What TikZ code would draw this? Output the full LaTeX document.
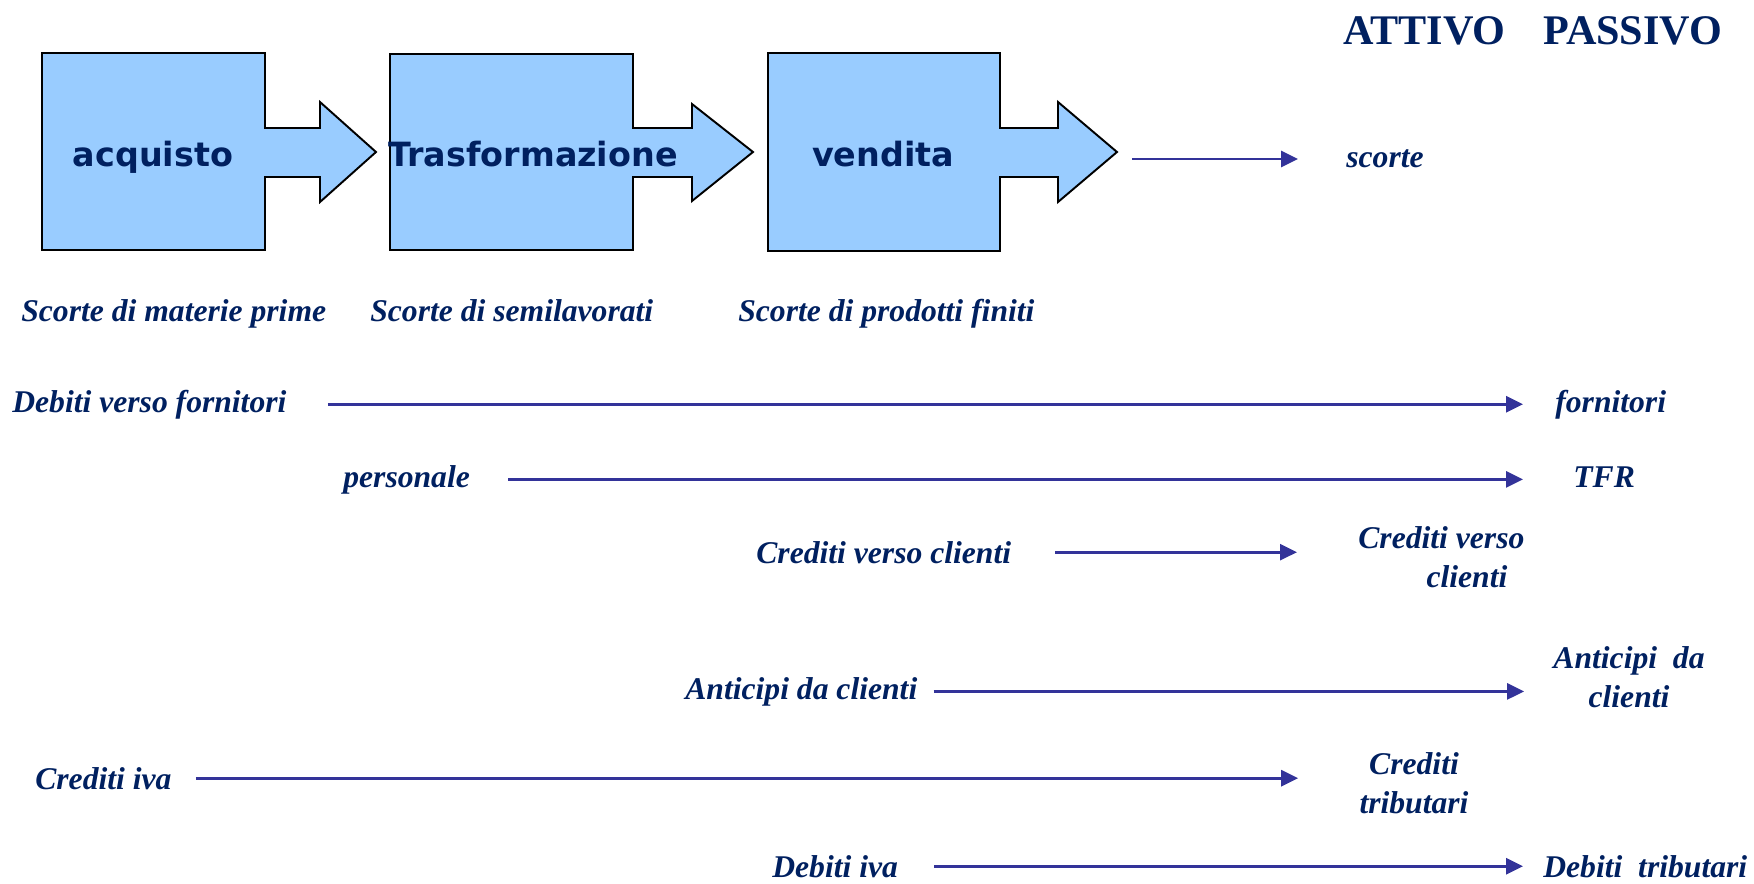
\documentclass[tikz,border=0pt]{standalone}
\usepackage{fontspec}
\setmainfont{Liberation Serif}
\newfontfamily\boxfont{DejaVu Sans}
\usetikzlibrary{arrows.meta}
\definecolor{navy}{RGB}{0,32,96}
\definecolor{boxblue}{RGB}{153,204,255}
\definecolor{flowblue}{RGB}{51,51,153}

\begin{document}
\begin{tikzpicture}[x=0.02cm, y=-0.02cm,
    procshape/.style={draw=black, line width=1.1pt, fill=boxblue},
    proctext/.style={inner sep=0, text=navy, font=\fontsize{19}{23}\selectfont\boxfont\bfseries},
    titolo/.style={inner sep=0, anchor=base west, text=navy, font=\fontsize{24}{28}\selectfont\bfseries},
    voce/.style={inner sep=0, text=navy, font=\fontsize{18}{22}\selectfont\bfseries\itshape},
    flusso/.style={draw=flowblue, line width=1.6pt, -{Triangle[length=0.34cm,width=0.32cm]}}]
				\useasboundingbox (0,0) rectangle (1754,883);

				% Process shapes
				\draw[procshape] (42,53) -- (265,53) -- (265,128) -- (320,128) -- (320,102) -- (376,152) -- (320,202) -- (320,177) -- (265,177) -- (265,250) -- (42,250) -- cycle;
				\draw[procshape] (390,54) -- (633,54) -- (633,128) -- (692,128) -- (692,104) -- (753,152) -- (692,201) -- (692,177) -- (633,177) -- (633,250) -- (390,250) -- cycle;
				\draw[procshape] (768,53) -- (1000,53) -- (1000,128) -- (1058,128) -- (1058,102) -- (1117,152) -- (1058,202) -- (1058,177) -- (1000,177) -- (1000,251) -- (768,251) -- cycle;
				\node[proctext, anchor=base] (acq) at (153,166) {acquisto};
				\node[proctext, anchor=base west] (tra) at (388,166) {Trasformazione};
				\node[proctext, anchor=base] (ven) at (883,166) {vendita};

				% Header
				\node[titolo] (att) at (1343,44) {ATTIVO};
				\node[titolo] (pas) at (1543,44) {PASSIVO};

				% Scorte
				\coordinate (vtip) at (1117,159);
				\node[voce, anchor=base west] (sco) at (1346,167) {scorte};
				\draw[flusso, shorten <=0.3cm, shorten >=0.96cm] (vtip) -- (vtip -| sco.west);
				\node[voce, anchor=base west] (smp) at (21,321) {Scorte di materie prime};
				\node[voce, anchor=base west] (ssl) at (370,321) {Scorte di semilavorati};
				\node[voce, anchor=base west] (spf) at (738,321) {Scorte di prodotti finiti};

				% Fornitori
				\node[voce, anchor=base west] (dvf) at (12,412) {Debiti verso fornitori};
				\node[voce, anchor=base west] (forn) at (1555,412) {fornitori};
				\draw[flusso, shorten <=0.82cm, shorten >=0.64cm] (dvf.east) -- (dvf.east -| forn.west);

				% Personale
				\node[voce, anchor=base west] (pers) at (343,487) {personale};
				\node[voce, anchor=base west] (tfr) at (1573,487) {TFR};
				\draw[flusso, shorten <=0.76cm, shorten >=1.0cm] (pers.east) -- (pers.east -| tfr.west);

				% Clienti
				\node[voce, anchor=base west] (cvc) at (756,563) {Crediti verso clienti};
				\node[voce, anchor=west, align=right] (cvc2) at (1358,557) {Crediti verso\\clienti\hspace*{0.34cm}};
				\draw[flusso, shorten <=0.88cm, shorten >=1.22cm] (cvc.east) -- (cvc.east -| cvc2.west);

				% Anticipi
				\node[voce, anchor=base west] (adc) at (685,699) {Anticipi da clienti};
				\node[voce, align=center] (adc2) at (1629,677) {Anticipi\ \ da\\clienti};
				\draw[flusso, shorten <=0.32cm, shorten >=0.58cm] (adc.east) -- (adc.east -| adc2.west);

				% Iva
				\node[voce, anchor=base west] (civa) at (35,789) {Crediti iva};
				\node[voce, align=center] (ctrib) at (1414,783) {Crediti\\tributari};
				\draw[flusso, shorten <=0.48cm, shorten >=1.22cm] (civa.east) -- (civa.east -| ctrib.west);
				\node[voce, anchor=base west] (diva) at (772,877) {Debiti iva};
				\node[voce, anchor=base west] (dtrib) at (1543,877) {Debiti\ \ tributari};
				\draw[flusso, shorten <=0.72cm, shorten >=0.4cm] (diva.east) -- (diva.east -| dtrib.west);
			\end{tikzpicture}
\end{document}
